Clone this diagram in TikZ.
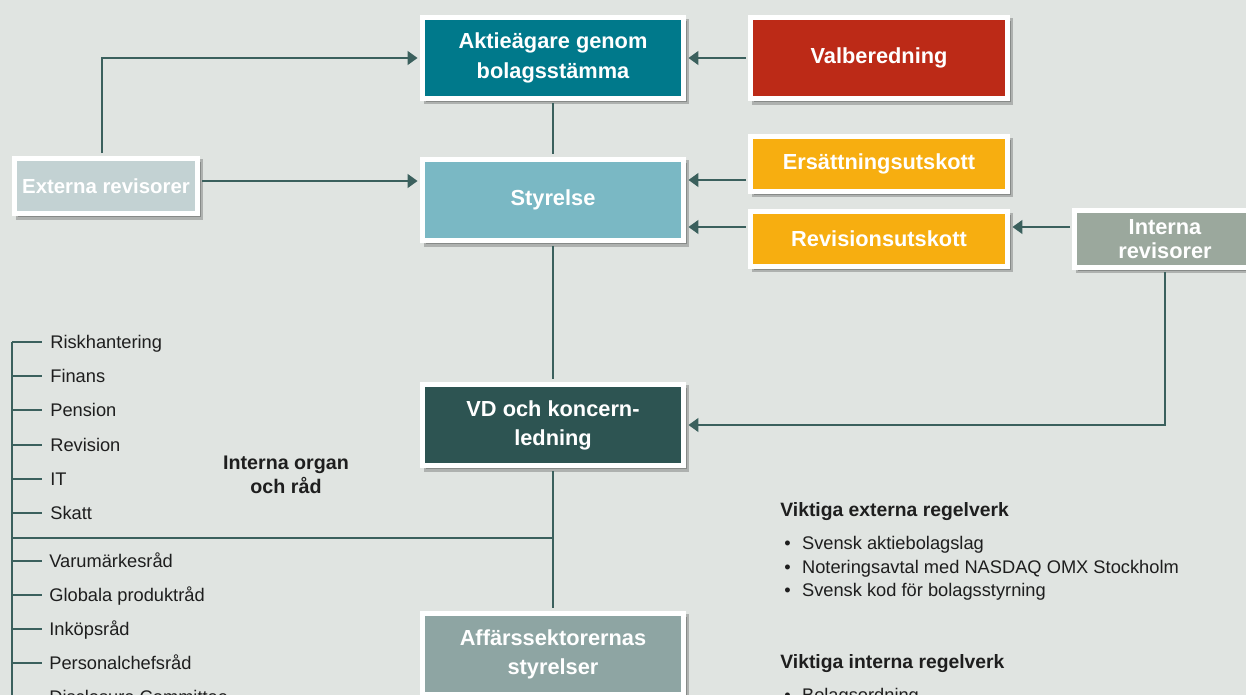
\documentclass[tikz,border=0pt]{standalone}
\usepackage{fontspec}
\setmainfont{Liberation Sans}
\usetikzlibrary{arrows.meta,shadows,calc}

\definecolor{bgcol}{HTML}{E0E4E1}
\definecolor{tealcol}{HTML}{00798B}
\definecolor{redcol}{HTML}{BC2A17}
\definecolor{skycol}{HTML}{7AB8C4}
\definecolor{ambercol}{HTML}{F7AE10}
\definecolor{sagecol}{HTML}{9BA89D}
\definecolor{mistcol}{HTML}{C3D2D3}
\definecolor{pinecol}{HTML}{2D5452}
\definecolor{slatecol}{HTML}{8EA5A3}
\definecolor{linecol}{HTML}{3B605D}
\definecolor{txtcol}{HTML}{1E1E1E}

\begin{document}
\begin{tikzpicture}[x=0.02cm,y=-0.02cm]

  \tikzstyle{every node}=[font=\fontsize{10.4}{12.5}\selectfont, text=txtcol]

  \tikzset{box/.style={draw=white, line width=0.1cm, align=center, text=white,
      font=\fontsize{12.4}{16.6}\selectfont\bfseries,
      drop shadow={opacity=0.22, fill=black, draw=black,
        shadow xshift=0.07cm, shadow yshift=-0.07cm}},
    link/.style={draw=linecol, line width=0.03cm},
    myptr/.style={link, -{Triangle[length=0.2cm,width=0.28cm]},
      shorten >=0.05cm, shorten <=0.05cm},
    organ item/.style={anchor=west, inner xsep=0.16cm, inner ysep=0pt,
      text height=0.95em, text depth=0.2em},
    heading/.style={anchor=west, inner sep=0pt,
      font=\fontsize{11}{13.6}\selectfont\bfseries}}

  % Canvas
  \useasboundingbox (0,0) rectangle (1246,695);
  \fill[bgcol] (0,0) rectangle (1246,695);
  \clip (0,0) rectangle (1246,695);

  % Entities
  \node[box, fill=tealcol, minimum width=5.22cm, minimum height=1.62cm]
    (akt) at (553,58) {Aktieägare genom\\bolagsstämma};
  \node[box, fill=redcol, minimum width=5.14cm, minimum height=1.64cm]
    (val) at (879,58) {Valberedning};
  \node[box, fill=skycol, minimum width=5.22cm, minimum height=1.64cm]
    (sty) at (553,200) {Styrelse};
  \node[box, fill=ambercol, minimum width=5.14cm, minimum height=1.1cm]
    (ers) at (879,164) {Ersättningsutskott};
  \node[box, fill=ambercol, minimum width=5.14cm, minimum height=1.1cm]
    (rev) at (879,239) {Revisionsutskott};
  \node[box, fill=sagecol, minimum width=3.62cm, minimum height=1.14cm,
    font=\fontsize{12.4}{13.6}\selectfont\bfseries]
    (irev) at (1165,239) {Interna\\revisorer};
  \node[box, fill=mistcol, minimum width=3.66cm, minimum height=1.12cm,
    font=\fontsize{11.6}{13.6}\selectfont\bfseries]
    (ext) at (106,186) {Externa revisorer};
  \node[box, fill=pinecol, minimum width=5.22cm, minimum height=1.64cm]
    (vd) at (553,425) {VD och koncern-\\ledning};
  \node[box, fill=slatecol, minimum width=5.22cm, minimum height=1.64cm]
    (aff) at (553,654) {Affärssektorernas\\styrelser};

  % Vertical line of command
  \draw[link, shorten >=0.05cm, shorten <=0.05cm] (akt) -- (sty);
  \draw[link, shorten >=0.05cm, shorten <=0.05cm] (sty) -- (vd);
  \draw[link, shorten >=0.05cm, shorten <=0.05cm] (vd) -- (aff);

  % Arrows into the top boxes
  \draw[myptr] ($(ext.north)+(-4,0)$) |- (akt.west);
  \draw[myptr] (val.west) -- (akt.east);

  \coordinate (ext out) at ($(ext.east)+(0,-5)$);
  \draw[myptr] (ext out) -- (ext out -| sty.west);

  \coordinate (ers out) at ($(ers.west)+(0,16)$);
  \draw[myptr] (ers out) -- (ers out -| sty.east);

  \coordinate (rev out) at ($(rev.west)+(0,-12)$);
  \draw[myptr] (rev out) -- (rev out -| sty.east);

  \coordinate (irev out) at ($(irev.west)+(0,-12)$);
  \draw[myptr] (irev out) -- (irev out -| rev.east);
  \draw[myptr] (irev.south) |- (vd.east);

  % Internal bodies and councils
  \coordinate (spine top) at (12,342);
  \coordinate (spine end) at (12,705);
  \draw[link] (spine top) -- (spine end);
  \coordinate (organ) at (12,538);
  \draw[link] (organ) -- (organ -| vd.south);

  \foreach \name [count=\i, evaluate=\i as \y using round(342+(\i-1)*34.2)] in
    {Riskhantering,Finans,Pension,Revision,IT,Skatt} {
    \node[organ item] (top\i) at (42,\y) {\name};
    \draw[link] (top\i.west -| spine top) -- (top\i.west);
  }

  \foreach \name [count=\i, evaluate=\i as \y using 561+(\i-1)*34] in
    {Varumärkesråd,Globala produktråd,Inköpsråd,Personalchefsråd,Disclosure Committee} {
    \node[organ item, inner xsep=0.14cm] (low\i) at (42,\y) {\name};
    \draw[link] (low\i.west -| spine top) -- (low\i.west);
  }

  \node[align=center, font=\fontsize{11.2}{13.6}\selectfont\bfseries]
    (organ label) at (286,475) {Interna organ\\och råd};

  % Rules and regulations
  \node[heading] (ext rules) at (780,512) {Viktiga externa regelverk};
  \foreach \item [count=\i, evaluate=\i as \y using 545+(\i-1)*23.5] in
    {Svensk aktiebolagslag,Noteringsavtal med NASDAQ OMX Stockholm,Svensk kod för bolagsstyrning} {
    \node[anchor=west, inner sep=0pt] (ext item\i) at (784,\y)
      {\textbullet\hspace{0.62em}\item};
  }

  \node[heading] (int rules) at (780,664) {Viktiga interna regelverk};
  \node[anchor=west, inner sep=0pt] (int item1) at (784,697)
    {\textbullet\hspace{0.62em}Bolagsordning};

\end{tikzpicture}
\end{document}
